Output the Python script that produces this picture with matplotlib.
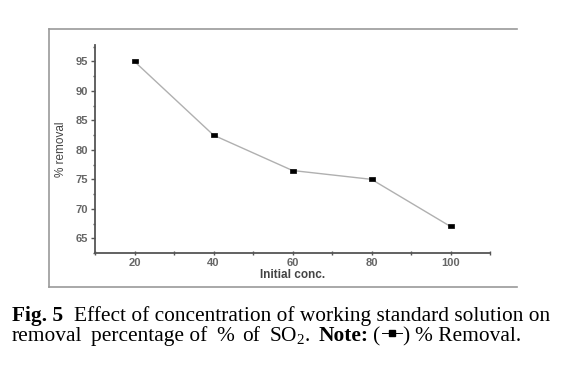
import matplotlib
matplotlib.use("Agg")
import matplotlib.pyplot as plt
from matplotlib.lines import Line2D
from matplotlib.path import Path

# data
conc = [20, 40, 60, 80, 100]
removal = [95, 82.5, 76.5, 75, 67]
xticks = [20, 40, 60, 80, 100]
yticks = [65, 70, 75, 80, 85, 90, 95]

W, H = 578, 366
fig = plt.figure(figsize=(W / 100, H / 100), dpi=100)
plt.rcParams['mathtext.fontset'] = 'custom'
plt.rcParams['mathtext.rm'] = 'Liberation Serif'

# axes box in pixels: x 95..490, y 45..253
ax = fig.add_axes([95 / W, 1 - 253 / H, (490 - 95) / W, (253 - 45) / H])

rect = Path([(-1, -0.6), (1, -0.6), (1, 0.6), (-1, 0.6), (-1, -0.6)],
            [Path.MOVETO, Path.LINETO, Path.LINETO, Path.LINETO, Path.CLOSEPOLY])
ax.plot(conc, removal, color='#b0b0b0', lw=1.0, marker=rect, markersize=5,
        markerfacecolor='black', markeredgecolor='black', markeredgewidth=0.5, zorder=3)

ax.set_xlim(10, 110)
ax.set_ylim(62.5, 97.8)
ax.set_xticks(xticks)
ax.set_xticks([10, 30, 50, 70, 90, 110], minor=True)
ax.set_yticks(yticks)
ax.set_yticks([62.5 + 2.5 * i for i in range(0, 15, 2)], minor=True)

for s in ['top', 'right']:
    ax.spines[s].set_visible(False)
for s in ['left', 'bottom']:
    ax.spines[s].set_color('#555555')
    ax.spines[s].set_linewidth(1.3)

tick_font = dict(family='Liberation Sans', weight='bold', size=8)
ax.tick_params(axis='x', which='both', direction='inout', length=3, width=1,
               colors='#555555', pad=2)
ax.tick_params(axis='y', which='major', direction='out', length=3, width=1,
               colors='#555555', pad=2)
ax.tick_params(axis='y', which='minor', direction='out', length=1.5, width=1,
               colors='#555555')
for lab in ax.get_xticklabels() + ax.get_yticklabels():
    lab.set_fontproperties(tick_font)
    lab.set_color('#666666')

ax.set_xlabel('Initial conc.', family='Liberation Sans', weight='bold',
              size=8.5, color='#444444', labelpad=1)
ax.set_ylabel('% removal', family='Liberation Sans', size=8.5, color='#444444')
ax.yaxis.set_label_coords(-0.07, 0.5)

# outer frame (no right edge)
fc = '#9a9a9a'
fig.add_artist(Line2D([49 / W, 517 / W], [1 - 29 / H, 1 - 29 / H], color=fc, lw=1.2))
fig.add_artist(Line2D([49 / W, 49 / W], [1 - 29 / H, 1 - 287 / H], color=fc, lw=1.2))
fig.add_artist(Line2D([49 / W, 517 / W], [1 - 287 / H, 1 - 287 / H], color=fc, lw=1.2))

# caption
renderer = fig.canvas.get_renderer()
serif = ['Liberation Serif', 'DejaVu Serif']


def width_of(s, size, weight='normal'):
    t = fig.text(0, 0, s, family=serif, size=size, weight=weight)
    w = t.get_window_extent(renderer).width
    t.remove()
    return w


def place(pieces, x0, y_px, size):
    sp = width_of('x x', size) - width_of('xx', size)
    x = x0
    for item in pieces:
        if item[0] == 'gap':
            x += sp * item[1]
            continue
        if item[0] == 'sym':
            yb = 1 - (y_px - size * 0.5) / H
            w = item[1]
            fig.add_artist(Line2D([(x + 1) / W, (x + w - 1) / W], [yb, yb], color='black', lw=0.7))
            fig.add_artist(Line2D([(x + w / 2) / W], [yb], marker='s', markersize=4,
                                  color='black'))
            x += w
            continue
        s, weight = item
        t = fig.text(x / W, 1 - y_px / H, s, family=serif, size=size,
                     weight=weight, va='baseline', ha='left')
        x = t.get_window_extent(renderer).x1


line1 = [('Fig. 5', 'bold'), ('gap', 2), ('Effect of concentration of working standard solution on', 'normal')]
line2 = [('removal', 'normal'), ('gap', 1.6), ('percentage of', 'normal'), ('gap', 1.6), ('%', 'normal'),
         ('gap', 1.6), ('of', 'normal'), ('gap', 1.6), ('SO$_2$.', 'normal'), ('gap', 1.6),
         ('Note:', 'bold'), ('gap', 0.8), ('(', 'normal'), ('sym', 22), (')', 'normal'), ('gap', 1),
         ('% Removal.', 'normal')]

base = 14
w1 = width_of('Fig. 5', base, 'bold') + width_of('Effect of concentration of working standard solution on', base) \
    + 2 * (width_of('x x', base) - width_of('xx', base))
size = base * 541 / w1

place(line1, 12, 321, size)
place(line2, 12, 341, size)

fig.savefig('out.png', dpi=100)
